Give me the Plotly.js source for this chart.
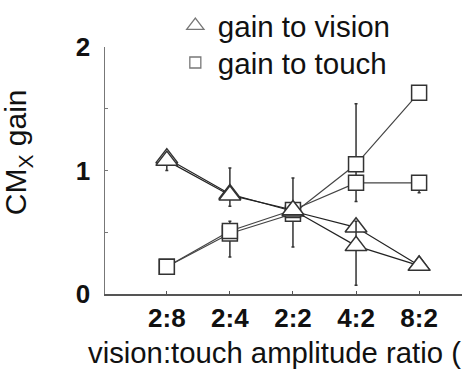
<!DOCTYPE html>
<html>
<head>
<meta charset="utf-8">
<script src="https://cdn.plot.ly/plotly-3.0.1.min.js"></script>
<style>html,body{margin:0;padding:0;background:#fff;}#chart{width:462px;height:373px;}</style>
</head>
<body>
<div id="chart"></div>
<script>
// ---- data ----
var categories = ['2:8', '2:4', '2:2', '4:2', '8:2'];
var visionA = [1.10, 0.81, 0.67, 0.54, 0.23];
var visionB = [1.08, 0.80, 0.68, 0.39, 0.23];
var touchA  = [0.22, 0.49, 0.65, 1.05, 1.63];
var touchB  = [0.22, 0.51, 0.68, 0.90, 0.90];
var visionAErrPlus  = [0.00, 0.21, 0.00, 0.00, 0.00];
var visionAErrMinus = [0.10, 0.10, 0.00, 0.00, 0.00];
var visionBErrPlus  = [0.00, 0.00, 0.00, 0.20, 0.00];
var visionBErrMinus = [0.00, 0.00, 0.00, 0.32, 0.00];
var touchAErrPlus   = [0.00, 0.10, 0.29, 0.49, 0.00];
var touchAErrMinus  = [0.00, 0.19, 0.27, 0.30, 0.00];
var touchBErrPlus   = [0.00, 0.00, 0.00, 0.00, 0.00];
var touchBErrMinus  = [0.00, 0.00, 0.00, 0.00, 0.08];
var legendNames = ['gain to vision', 'gain to touch'];
var yTickVals = [0, 1, 2];
var yTickText = ['0', '1', '2'];
var xTitle = 'vision:touch amplitude ratio (';
var yTitle = 'CM<sub>X</sub> gain';

var FONT = 'Liberation Sans, Arial, sans-serif';

function series(y, ep, em, symbol, size, lineColor) {
  return {
    type: 'scatter', mode: 'lines+markers', x: categories, y: y,
    showlegend: false,
    line: {color: lineColor, width: 1.2},
    marker: {symbol: symbol, size: size, color: '#ffffff', line: {color: '#333', width: 1.5}},
    error_y: {type: 'data', symmetric: false, array: ep, arrayminus: em,
              color: '#333', thickness: 1.5, width: 1.5}
  };
}

var traces = [
  series(touchA, touchAErrPlus, touchAErrMinus, 'square', 15, '#444'),
  series(touchB, touchBErrPlus, touchBErrMinus, 'square', 15, '#444'),
  series(visionA, visionAErrPlus, visionAErrMinus, 'triangle-up', 19, '#222'),
  series(visionB, visionBErrPlus, visionBErrMinus, 'triangle-up', 19, '#222'),
  {type: 'scatter', mode: 'markers', x: [null], y: [null], name: legendNames[0], legend: 'legend',
   marker: {symbol: 'triangle-up-open', size: 15, color: '#777', line: {width: 1.3}}},
  {type: 'scatter', mode: 'markers', x: [null], y: [null], name: legendNames[1], legend: 'legend2',
   marker: {symbol: 'square-open', size: 11, color: '#777', line: {width: 1.3}}}
];

var legendBase = {x: 0.19, xanchor: 'left', yanchor: 'top',
  font: {family: FONT, size: 29.5, color: '#111'}, bgcolor: 'rgba(0,0,0,0)',
  itemwidth: 35, itemclick: false};

var layout = {
  width: 462, height: 373,
  margin: {l: 105, r: 0, t: 46, b: 79, pad: 0},
  paper_bgcolor: '#fff', plot_bgcolor: '#fff',
  font: {family: FONT, color: '#111'},
  showlegend: true,
  legend: Object.assign({}, legendBase, {y: 1.19}),
  legend2: Object.assign({}, legendBase, {y: 1.037}),
  xaxis: {
    type: 'category', range: [-0.98, 4.68], showgrid: false, zeroline: false,
    showline: true, linecolor: '#555', linewidth: 1.5,
    ticks: 'inside', ticklen: 3, tickcolor: '#555', tickwidth: 1,
    tickfont: {family: FONT, size: 26, weight: 700, color: '#111'},
    fixedrange: true
  },
  yaxis: {
    range: [0, 2], showgrid: false, zeroline: false,
    showline: true, linecolor: '#777', linewidth: 1.5,
    ticks: 'inside', ticklen: 3, tickcolor: '#777', tickwidth: 1,
    tickmode: 'array', tickvals: yTickVals, ticktext: yTickText,
    minor: {dtick: 0.5, ticks: 'inside', ticklen: 3, tickcolor: '#777', tickwidth: 1, showgrid: false},
    tickfont: {family: FONT, size: 26, weight: 700, color: '#111'},
    ticklabelstandoff: 8,
    fixedrange: true
  },
  annotations: [
    {xref: 'paper', yref: 'paper', x: -0.053, y: -0.238, xanchor: 'left', yanchor: 'middle',
     text: xTitle, showarrow: false, font: {family: FONT, size: 29.3, color: '#111'}},
    {xref: 'paper', yref: 'paper', x: -0.243, y: 0.575, xanchor: 'center', yanchor: 'middle',
     text: yTitle, textangle: -90, showarrow: false, font: {family: FONT, size: 30, color: '#111'}}
  ]
};

Plotly.newPlot('chart', traces, layout, {displayModeBar: false, staticPlot: true});
</script>
</body>
</html>
